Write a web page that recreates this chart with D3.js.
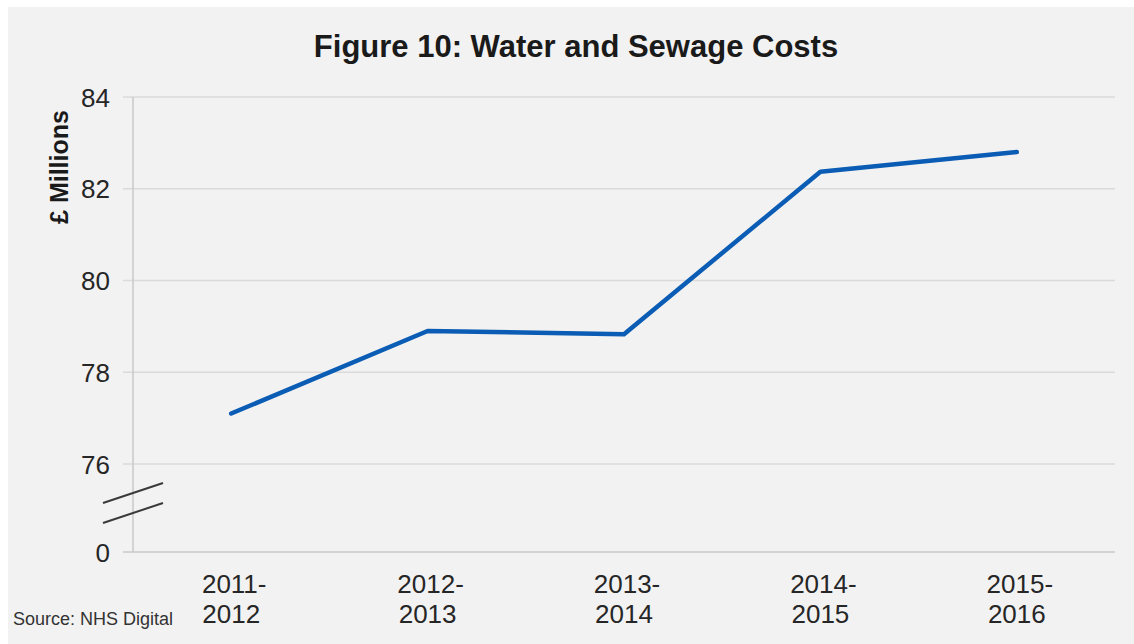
<!DOCTYPE html>
<html>
<head>
<meta charset="utf-8">
<script src="https://cdn.jsdelivr.net/npm/d3@7"></script>
<style>
  body { margin: 0; background: #fff; }
  text { font-family: Arial, "Liberation Sans", sans-serif; }
</style>
</head>
<body>
<div class="chart"></div>
<script>
// data
const years = ["2011-2012", "2012-2013", "2013-2014", "2014-2015", "2015-2016"];
const costs = [77.1, 78.9, 78.83, 82.37, 82.8];
const yTicks = [0, 76, 78, 80, 82, 84];

let width = 1134, height = 644;
let margin = { top: 97, right: 19, bottom: 92, left: 133 };

let svg = d3.select(".chart").append("svg")
  .attr("width", width)
  .attr("height", height);

// grey panel
svg.append("rect")
  .attr("x", 8).attr("y", 7)
  .attr("width", width - 8).attr("height", height - 7)
  .attr("fill", "#f2f2f2");

let plotW = width - margin.left - margin.right,
    plotH = height - margin.top - margin.bottom;

let g = svg.append("g")
  .attr("transform", "translate(" + margin.left + "," + margin.top + ")");

let x = d3.scaleBand()
  .domain(years)
  .range([0, plotW]);

// broken axis: 0 sits just below 76
let y = d3.scaleLinear()
  .domain([0, 76, 84])
  .range([plotH, plotH - 88, 0]);

// grid lines
g.selectAll(".grid")
  .data(yTicks)
  .join("line")
  .attr("class", "grid")
  .attr("x1", -10)
  .attr("x2", plotW)
  .attr("y1", d => y(d))
  .attr("y2", d => y(d))
  .attr("stroke", d => d === 0 ? "#c8c8c8" : "#dadada")
  .attr("stroke-width", 1.5);

// y axis line
g.append("line")
  .attr("x1", 0).attr("x2", 0)
  .attr("y1", 0).attr("y2", plotH)
  .attr("stroke", "#c8c8c8")
  .attr("stroke-width", 1.5);

// y labels
let yAxis = g.append("g")
  .call(d3.axisLeft(y).tickValues(yTicks).tickSize(0).tickPadding(23))
yAxis.select(".domain").remove();
yAxis.selectAll("text")
  .attr("font-size", 26)
  .attr("fill", "#262626")
  .attr("dy", "0.35em");

// axis break marks
let brk = [0, 20];
g.selectAll(".brk")
  .data(brk)
  .join("line")
  .attr("class", "brk")
  .attr("x1", -30).attr("x2", 30)
  .attr("y1", d => y(76) + 39 + d)
  .attr("y2", d => y(76) + 19 + d)
  .attr("stroke", "#3a3a3a")
  .attr("stroke-width", 2);

// x labels
let xl = g.selectAll(".xl")
  .data(years)
  .join("text")
  .attr("class", "xl")
  .attr("text-anchor", "middle")
  .attr("font-size", 26)
  .attr("fill", "#262626")
  .attr("transform", d => "translate(" + (x(d) + x.bandwidth() / 2) + "," + (plotH + 41) + ")");
xl.append("tspan").attr("x", 0).attr("dx", 3).text(d => d.split("-")[0] + "-");
xl.append("tspan").attr("x", 0).attr("dy", 30).text(d => d.split("-")[1]);

// the line
let line = d3.line()
  .x((d, i) => x(years[i]) + x.bandwidth() / 2)
  .y(d => y(d));

g.append("path")
  .datum(costs)
  .attr("d", line)
  .attr("fill", "none")
  .attr("stroke", "#0a5cb4")
  .attr("stroke-width", 4.5)
  .attr("stroke-linejoin", "round")
  .attr("stroke-linecap", "round");

// title
svg.append("text")
  .attr("x", 576)
  .attr("y", 57)
  .attr("text-anchor", "middle")
  .attr("font-size", 31)
  .attr("font-weight", "bold")
  .attr("fill", "#1a1a1a")
  .text("Figure 10: Water and Sewage Costs");

// y axis title
svg.append("text")
  .attr("transform", "translate(68,167) rotate(-90)")
  .attr("text-anchor", "middle")
  .attr("font-size", 25)
  .attr("font-weight", "bold")
  .attr("fill", "#1a1a1a")
  .text("£ Millions");

// source note
svg.append("text")
  .attr("x", 13)
  .attr("y", 625)
  .attr("font-size", 18)
  .attr("fill", "#333")
  .text("Source: NHS Digital");
</script>
</body>
</html>
